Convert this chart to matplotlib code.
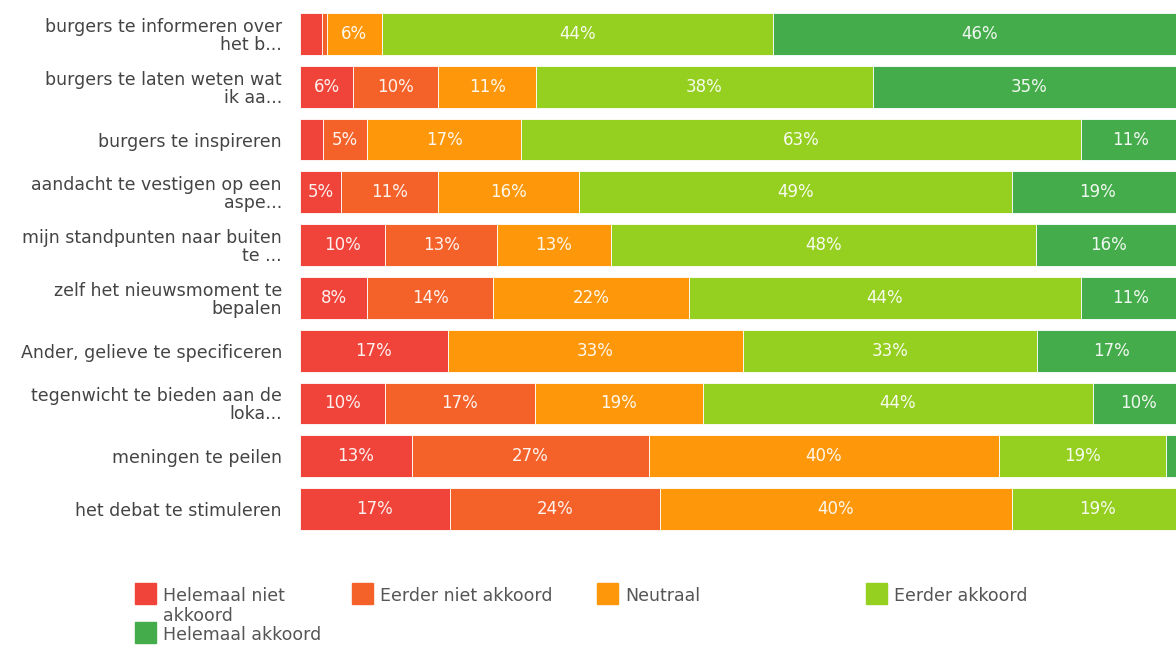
import matplotlib.pyplot as plt
from matplotlib.patches import Rectangle

plt.rcParams["font.family"] = ["DejaVu Sans"]

# data (percentages)
vragen = [
    "burgers te informeren over\nhet b...",
    "burgers te laten weten wat\nik aa...",
    "burgers te inspireren",
    "aandacht te vestigen op een\naspe...",
    "mijn standpunten naar buiten\nte ...",
    "zelf het nieuwsmoment te\nbepalen",
    "Ander, gelieve te specificeren",
    "tegenwicht te bieden aan de\nloka...",
    "meningen te peilen",
    "het debat te stimuleren",
]
antwoorden = ["Helemaal niet\nakkoord", "Eerder niet akkoord", "Neutraal",
              "Eerder akkoord", "Helemaal akkoord"]
helemaal_niet = [2.5, 6.0, 2.6, 4.6, 9.6, 7.6, 16.7, 9.6, 12.6, 16.9]
eerder_niet = [0.5, 9.6, 5.0, 11.0, 12.7, 14.2, 0.0, 16.9, 26.8, 23.8]
neutraal = [6.3, 11.1, 17.4, 15.9, 12.8, 22.1, 33.3, 19.0, 39.6, 39.7]
eerder_akkoord = [44.2, 38.0, 63.2, 49.0, 48.1, 44.3, 33.3, 44.1, 18.8, 19.4]
helemaal_akkoord = [46.5, 35.3, 11.4, 19.3, 16.4, 11.4, 16.7, 10.4, 2.2, 0.0]

kleuren = ["#F0443A", "#F4622A", "#FE980A", "#95CF1F", "#45AC4B"]
reeksen = [helemaal_niet, eerder_niet, neutraal, eerder_akkoord, helemaal_akkoord]

fig = plt.figure(figsize=(11.76, 6.68), dpi=100)
ax = fig.add_axes([300 / 1176, 1 - 535.4 / 668, 885 / 1176, 527.8 / 668])

y = list(range(len(vragen)))
links = [0.0] * len(vragen)
for reeks, kleur in zip(reeksen, kleuren):
    bars = ax.barh(y, reeks, left=links, height=0.79, color=kleur,
                   edgecolor="white", linewidth=0.6)
    for i, v in enumerate(reeks):
        if v >= 4.5:
            ax.text(links[i] + v / 2, i, "%d%%" % round(v), ha="center",
                    va="center", color="white", fontsize=12, alpha=0.92)
    links = [a + b for a, b in zip(links, reeks)]

ax.set_xlim(0, 100)
ax.set_ylim(len(vragen) - 0.5, -0.5)
ax.set_yticks(y)
ax.set_yticklabels(vragen, fontsize=12.5, color="#444444", linespacing=1.0)
ax.tick_params(axis="y", length=0, pad=13)
ax.set_xticks([])
for s in ax.spines.values():
    s.set_visible(False)

# legend drawn by hand under the chart
leg_pos = [(135, 583), (352, 583), (597, 583), (866, 583), (135, 622)]
for (px, py), kleur, naam in zip(leg_pos, kleuren, antwoorden):
    fig.add_artist(Rectangle((px / 1176, 1 - (py + 21) / 668), 21 / 1176, 21 / 668,
                             transform=fig.transFigure, color=kleur))
    fig.text((px + 28) / 1176, 1 - (py + 4) / 668, naam, ha="left", va="top",
             fontsize=12.5, color="#555555", linespacing=1.15)

fig.savefig("out.png", dpi=100)
